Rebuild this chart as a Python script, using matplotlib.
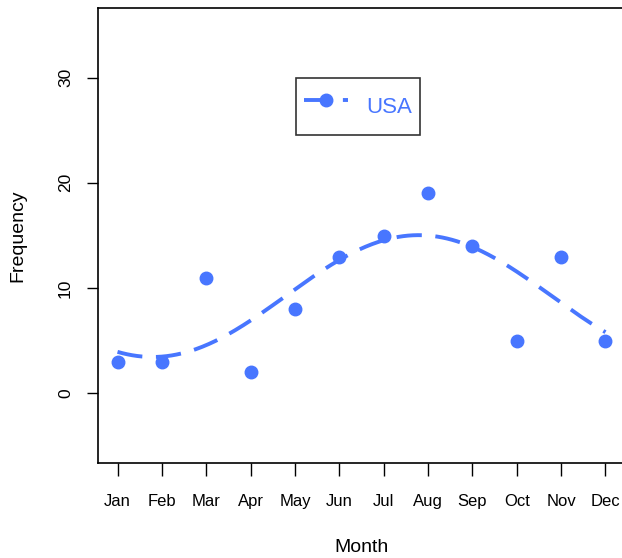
import numpy as np
import matplotlib
matplotlib.use("Agg")
import matplotlib.pyplot as plt
from matplotlib.lines import Line2D

plt.rcParams['font.family'] = ['Liberation Sans', 'DejaVu Sans']

months = ["Jan", "Feb", "Mar", "Apr", "May", "Jun", "Jul", "Aug", "Sep", "Oct", "Nov", "Dec"]
usa = [3, 3, 11, 2, 8, 13, 15, 19, 14, 5, 13, 5]
color = "#4876FF"

x = np.arange(1, len(months) + 1)

# seasonal (one-harmonic) least-squares fit of the monthly counts
w = 2 * np.pi / 12
A = np.column_stack([np.ones(len(x)), np.sin(w * x), np.cos(w * x)])
coef = np.linalg.lstsq(A, np.array(usa, dtype=float), rcond=None)[0]
xs = np.linspace(1, 12, 300)
ys = coef[0] + coef[1] * np.sin(w * xs) + coef[2] * np.cos(w * xs)

fig = plt.figure(figsize=(6.22, 5.58), dpi=100)
ax = fig.add_axes([98 / 622, 1 - 463 / 558, 527 / 622, 455 / 558])

ax.plot(x, usa, 'o', color=color, markersize=9, clip_on=False)
ax.plot(xs, ys, color=color, lw=2.8, dashes=(6.5, 3.5))

ax.set_xlim(0.56, 12.44)
ax.set_ylim(-6.6, 36.6)
ax.set_xticks(x)
ax.set_xticklabels(months, fontsize=12)
ax.set_yticks([0, 10, 20, 30])
ax.set_yticklabels(["0", "10", "20", "30"], fontsize=12.5, rotation=90, va="center")
ax.tick_params(axis="x", direction="out", length=9, width=1, pad=13)
ax.tick_params(axis="y", direction="out", length=8, width=1, pad=10)
ax.set_xlabel("Month", fontsize=14, labelpad=22)
ax.set_ylabel("Frequency", fontsize=14, labelpad=23)
ax.spines["right"].set_visible(False)
for s in ax.spines.values():
    s.set_linewidth(1.2)

handle = Line2D([], [], color=color, lw=2.8, dashes=(6.5, 3.5), marker='o', markersize=9)
leg = ax.legend([handle], ["USA"], loc="upper left", bbox_to_anchor=(198 / 527, 1 - 70 / 455),
                borderaxespad=0, frameon=True, fancybox=False, edgecolor="black", fontsize=16,
                labelcolor=color, handlelength=2.0, handleheight=2.5, borderpad=0.35,
                handletextpad=0.8)
leg.get_frame().set_linewidth(1.2)

fig.savefig("out.png", dpi=100)
